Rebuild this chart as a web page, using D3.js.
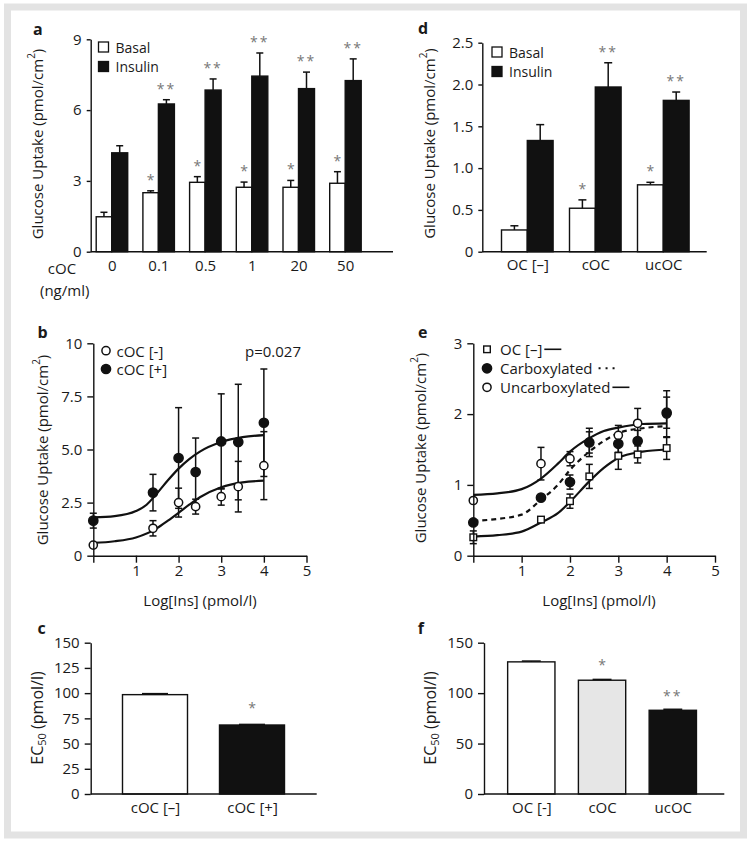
<!DOCTYPE html>
<html><head><meta charset="utf-8">
<script src="https://cdn.jsdelivr.net/npm/d3@7"></script>
<style>
body{margin:0;background:#fff}
svg{display:block}
text{font-family:"Open Sans",sans-serif;fill:#1a1a1a}
</style>
</head><body>
<svg id="c" width="751" height="844"></svg>
<script>
// ---------- DATA ----------
// Panel a
const aCats = ["0","0.1","0.5","1","20","50"];
const aBasal = [1.48,2.50,2.94,2.73,2.73,2.90];
const aBasalErr = [0.19,0.08,0.24,0.22,0.29,0.49];
const aInsulin = [4.19,6.26,6.85,7.44,6.91,7.25];
const aInsulinErr = [0.30,0.18,0.47,0.98,0.70,0.92];
const aBasalStars = ["","*","*","*","*","*"];
const aInsulinStars = ["","**","**","**","**","**"];
const aTicks = [0,3,6,9];
// Panel d
const dCats = ["OC [–]","cOC","ucOC"];
const dBasal = [0.26,0.52,0.80];
const dBasalErr = [0.05,0.10,0.03];
const dInsulin = [1.33,1.97,1.81];
const dInsulinErr = [0.19,0.29,0.10];
const dBasalStars = ["","*","*"];
const dInsulinStars = ["","**","**"];
const dTicks = [0,0.5,1.0,1.5,2.0,2.5];
// Panel b
const bX = [0,1.4,2,2.4,3,3.4,4];
const bMinus = [0.50,1.29,2.50,2.31,2.78,3.25,4.24];
const bMinusErr = [0.08,0.36,0.68,0.35,0.40,1.19,1.60];
const bPlus = [1.65,2.97,4.60,3.94,5.38,5.35,6.26];
const bPlusErr = [0.35,0.86,2.37,1.60,2.24,2.72,2.53];
const bFitPlus = [[0,1.8],[0.5,1.86],[1,2.1],[1.25,2.4],[1.5,2.95],[1.75,3.55],[2,4.1],[2.25,4.55],[2.5,4.9],[3,5.35],[3.5,5.58],[4,5.68]];
const bFitMinus = [[0,0.6],[0.5,0.68],[1,0.86],[1.5,1.3],[1.75,1.65],[2,2.02],[2.25,2.4],[2.5,2.75],[3,3.22],[3.5,3.45],[4,3.53]];
const bYTicks = [0,2.5,5,7.5,10];
const bXTicks = [0,1,2,3,4,5];
// Panel e
const eX = [0,1.4,2,2.4,3,3.4,4];
const eOC = [0.26,0.51,0.77,1.12,1.41,1.43,1.52];
const eOCErr = [0.09,0.04,0.10,0.17,0.19,0.12,0.16];
const eCarb = [0.47,0.82,1.04,1.60,1.58,1.62,2.02];
const eCarbErr = [0.03,0.02,0.10,0.20,0.12,0.15,0.22];
const eUncarb = [0.78,1.30,1.37,1.60,1.70,1.87,2.00];
const eUncarbErr = [0.02,0.23,0.10,0.15,0.14,0.21,0.33];
const eFitOC = [[0,0.27],[0.5,0.29],[1,0.34],[1.4,0.47],[1.75,0.6],[2,0.76],[2.4,1.05],[2.7,1.24],[3,1.38],[3.5,1.47],[4,1.5]];
const eFitCarb = [[0,0.49],[0.5,0.52],[1,0.58],[1.4,0.79],[1.75,1.0],[2,1.21],[2.4,1.47],[2.7,1.62],[3,1.73],[3.5,1.8],[4,1.83]];
const eFitUncarb = [[0,0.86],[0.5,0.88],[1,0.94],[1.4,1.09],[1.75,1.3],[2,1.47],[2.4,1.66],[2.7,1.76],[3,1.81],[3.5,1.86],[4,1.87]];
const eYTicks = [0,1,2,3];
const eXTicks = [0,1,2,3,4,5];
// Panel c
const cCats = ["cOC [–]","cOC [+]"];
const cVals = [98.5,68.4];
const cErr = [1.0,0.6];
const cStars = ["","*"];
const cFills = ["#ffffff","#111111"];
const cTicks = [0,25,50,75,100,125,150];
// Panel f
const fCats = ["OC [-]","cOC","ucOC"];
const fVals = [131,112.8,83];
const fErr = [0.8,0.8,1.0];
const fStars = ["","*","**"];
const fFills = ["#ffffff","#e6e6e6","#111111"];
const fTicks = [0,50,100,150];

// ---------- DRAW ----------
const svg = d3.select("#c");
svg.append("rect").attr("x",7.5).attr("y",7).attr("width",736).attr("height",828)
  .attr("fill","#fff").attr("stroke","#e3e3e3").attr("stroke-width",7);

const FS = 14.5;
const AX = 1.4;

function panelLabel(t,x,y){
  svg.append("text").attr("x",x).attr("y",y).attr("font-weight","bold").attr("font-size",16)
    .attr("dominant-baseline","central").text(t);
}
function yTitle(x,y,parts,fs){
  const t = svg.append("text").attr("transform",`translate(${x},${y}) rotate(-90)`)
    .attr("text-anchor","middle").attr("dominant-baseline","central").attr("font-size",fs||FS+0.5);
  parts.forEach(p=>{
    const s=t.append("tspan").text(p.t);
    if(p.fs) s.attr("font-size",p.fs);
    if(p.dy) s.attr("dy",p.dy);
  });
}
function yAxis(y,x0,ticks,fmt,tl,pad){
  const g = svg.append("g").attr("transform",`translate(${x0},0)`)
    .call(d3.axisLeft(y).tickValues(ticks).tickFormat(fmt).tickSize(tl).tickSizeOuter(0).tickPadding(pad));
  g.attr("font-family",null).attr("font-size",null);
  g.selectAll("text").attr("font-size",FS+0.5).attr("fill","#1a1a1a");
  g.selectAll("line,path").attr("stroke","#111").attr("stroke-width",AX);
  return g;
}
function star(x,y,s){
  svg.append("text").attr("x",x).attr("y",y).attr("text-anchor","middle")
    .attr("font-size",14).attr("letter-spacing",s.length>1?2:0).style("fill","#777").text(s);
}
function errUp(x,y0,y1,cw){
  svg.append("line").attr("x1",x).attr("x2",x).attr("y1",y0).attr("y2",y1).attr("stroke","#111").attr("stroke-width",1.5);
  svg.append("line").attr("x1",x-cw/2).attr("x2",x+cw/2).attr("y1",y1).attr("y2",y1).attr("stroke","#111").attr("stroke-width",1.5);
}

// ---- grouped bars (a, d) ----
function groupedPanel(o){
  const y = d3.scaleLinear().domain(o.yDom).range(o.yRange);
  const x = d3.scalePoint().domain(o.cats).range(o.cRange);
  o.series.forEach(s=>{
    o.cats.forEach((c,i)=>{
      const cx = x(c) + s.off;
      svg.append("rect").attr("x",cx).attr("y",y(s.v[i])).attr("width",s.w).attr("height",y(0)-y(s.v[i]))
        .attr("fill",s.fill).attr("stroke","#111").attr("stroke-width",1.4);
      const top = y(s.v[i]+s.e[i]);
      errUp(cx+s.w/2,y(s.v[i]),top,o.cap);
      if(s.stars[i]) star(cx+s.w/2, top-6, s.stars[i]);
    });
  });
  yAxis(y,o.ax,o.ticks,o.fmt,o.tl,o.pad);
  svg.append("line").attr("x1",o.ax).attr("x2",o.axEnd).attr("y1",y(0)).attr("y2",y(0)).attr("stroke","#111").attr("stroke-width",AX);
  const gx = svg.append("g").attr("transform",`translate(0,${y(0)})`).call(d3.axisBottom(x).tickSize(0).tickPadding(o.lpad));
  gx.attr("font-family",null).attr("font-size",null);
  gx.select(".domain").remove();
  gx.selectAll("text").attr("font-size",FS+0.5).attr("fill","#1a1a1a");
  // legend
  o.legend.forEach((l,i)=>{
    svg.append("rect").attr("x",o.lx).attr("y",o.ly+i*o.lstep-5).attr("width",10).attr("height",10)
      .attr("fill",l.fill).attr("stroke","#111").attr("stroke-width",1.3);
    svg.append("text").attr("x",o.lx+17).attr("y",o.ly+i*o.lstep).attr("dominant-baseline","central")
      .attr("font-size",14).text(l.t);
  });
  return {x,y};
}

groupedPanel({yDom:[0,9],yRange:[251.7,39.3],cats:aCats,cRange:[111.7,345.2],ax:90.7,axEnd:393,
  ticks:aTicks,fmt:d3.format("d"),tl:4,pad:5,cap:7,lpad:9,
  series:[{v:aBasal,e:aBasalErr,off:-15.5,w:15.5,fill:"#fff",stars:aBasalStars},
          {v:aInsulin,e:aInsulinErr,off:0,w:16,fill:"#111",stars:aInsulinStars}],
  legend:[{t:"Basal",fill:"#fff"},{t:"Insulin",fill:"#111"}],lx:98.5,ly:47,lstep:19.5});
svg.append("text").attr("x",62).attr("y",268).attr("text-anchor","middle").attr("dominant-baseline","central").attr("font-size",FS+0.5).text("cOC");
svg.append("text").attr("x",64.7).attr("y",290).attr("text-anchor","middle").attr("dominant-baseline","central").attr("font-size",FS+0.5).text("(ng/ml)");
panelLabel("a",33,29);
yTitle(37,144,[{t:"Glucose Uptake (pmol/cm"},{t:"2",fs:10,dy:-6},{t:")",dy:6}]);

groupedPanel({yDom:[0,2.5],yRange:[251.7,42.7],cats:dCats,cRange:[527.3,663.3],ax:482.3,axEnd:706.7,
  ticks:dTicks,fmt:d=>d===0?"0":d3.format(".1f")(d),tl:4,pad:5,cap:8,lpad:8,
  series:[{v:dBasal,e:dBasalErr,off:-25.8,w:25.8,fill:"#fff",stars:dBasalStars},
          {v:dInsulin,e:dInsulinErr,off:0,w:25.8,fill:"#111",stars:dInsulinStars}],
  legend:[{t:"Basal",fill:"#fff"},{t:"Insulin",fill:"#111"}],lx:492,ly:52,lstep:19.5});
panelLabel("d",418,28);
yTitle(429,143.5,[{t:"Glucose Uptake (pmol/cm"},{t:"2",fs:10,dy:-6},{t:")",dy:6}]);

// ---- scatter panels (b, e) ----
function scatterAxes(x,y,o){
  yAxis(y,x(0),o.yTicks,o.yFmt,6,5);
  const gx = svg.append("g").attr("transform",`translate(0,${y(0)})`)
    .call(d3.axisBottom(x).tickValues(o.xTicks).tickFormat(d=>d===0?"":d).tickSize(7).tickSizeOuter(0).tickPadding(3));
  gx.attr("font-family",null).attr("font-size",null);
  gx.selectAll("text").attr("font-size",FS+0.5).attr("fill","#1a1a1a");
  gx.selectAll("line,path").attr("stroke","#111").attr("stroke-width",AX);
}
function errBars(x,y,xs,v,e){
  xs.forEach((xx,i)=>{
    const px=x(xx), y0=y(v[i]-e[i]), y1=y(v[i]+e[i]);
    svg.append("line").attr("x1",px).attr("x2",px).attr("y1",y0).attr("y2",y1).attr("stroke","#111").attr("stroke-width",1.5);
    [y0,y1].forEach(yy=>svg.append("line").attr("x1",px-3.5).attr("x2",px+3.5).attr("y1",yy).attr("y2",yy).attr("stroke","#111").attr("stroke-width",1.5));
  });
}
function marker(px,py,type){
  if(type==="sq") svg.append("rect").attr("x",px-3.3).attr("y",py-3.3).attr("width",6.6).attr("height",6.6)
      .attr("fill","#fff").attr("stroke","#111").attr("stroke-width",1.4);
  else svg.append("circle").attr("cx",px).attr("cy",py).attr("r",type==="fill"?4.6:4.1)
      .attr("fill",type==="fill"?"#111":"#fff").attr("stroke","#111").attr("stroke-width",1.5);
}
function fitLine(x,y,pts,dash){
  const l = d3.line().x(d=>x(d[0])).y(d=>y(d[1])).curve(d3.curveMonotoneX);
  const p = svg.append("path").attr("d",l(pts)).attr("fill","none").attr("stroke","#111").attr("stroke-width",2.2);
  if(dash) p.attr("stroke-dasharray",dash);
}

// b
{
  const x = d3.scaleLinear().domain([0,5]).range([93.3,306.5]);
  const y = d3.scaleLinear().domain([0,10]).range([555.7,343.3]);
  errBars(x,y,bX,bPlus,bPlusErr);
  errBars(x,y,bX,bMinus,bMinusErr);
  fitLine(x,y,bFitPlus);
  fitLine(x,y,bFitMinus);
  bX.forEach((d,i)=>marker(x(d),y(bPlus[i]),"fill"));
  bX.forEach((d,i)=>marker(x(d),y(bMinus[i]),"open"));
  scatterAxes(x,y,{yTicks:bYTicks,yFmt:d=>d===0?"0":(d===10?"10":d3.format(".1f")(d)),xTicks:bXTicks});
  marker(106,350.7,"open"); marker(106,369,"fill");
  svg.append("text").attr("x",116.5).attr("y",350.7).attr("dominant-baseline","central").attr("font-size",FS+0.5).text("cOC [-]");
  svg.append("text").attr("x",116.5).attr("y",369).attr("dominant-baseline","central").attr("font-size",FS+0.5).text("cOC [+]");
  svg.append("text").attr("x",245).attr("y",350.7).attr("dominant-baseline","central").attr("font-size",FS+0.5).text("p=0.027");
  svg.append("text").attr("x",200).attr("y",600).attr("text-anchor","middle").attr("dominant-baseline","central").attr("font-size",FS+0.5).text("Log[Ins] (pmol/l)");
  panelLabel("b",37.5,331.7);
  yTitle(41.7,450,[{t:"Glucose Uptake (pmol/cm"},{t:"2",fs:10,dy:-6},{t:")",dy:6}]);
}
// e
{
  const x = d3.scaleLinear().domain([0,5]).range([473.3,715]);
  const y = d3.scaleLinear().domain([0,3]).range([555.7,343.3]);
  errBars(x,y,eX,eUncarb,eUncarbErr);
  errBars(x,y,eX,eCarb,eCarbErr);
  errBars(x,y,eX,eOC,eOCErr);
  fitLine(x,y,eFitUncarb);
  fitLine(x,y,eFitCarb,"5,4");
  fitLine(x,y,eFitOC);
  eX.forEach((d,i)=>marker(x(d),y(eUncarb[i]),"open"));
  eX.forEach((d,i)=>marker(x(d),y(eCarb[i]),"fill"));
  eX.forEach((d,i)=>marker(x(d),y(eOC[i]),"sq"));
  scatterAxes(x,y,{yTicks:eYTicks,yFmt:d3.format("d"),xTicks:eXTicks});
  const lx=487, lt=500;
  marker(lx,349.3,"sq"); marker(lx,368.3,"fill"); marker(lx,387.3,"open");
  const leg = [["OC [–]",349.3,"solid"],["Carboxylated",368.3,"dot"],["Uncarboxylated",387.3,"solid"]];
  leg.forEach(l=>{
    const t = svg.append("text").attr("x",lt).attr("y",l[1]).attr("dominant-baseline","central").attr("font-size",FS+0.5).text(l[0]);
    const w = t.node().getComputedTextLength();
    const x0 = lt+w+(l[2]==="dot"?6:2);
    svg.append("line").attr("x1",x0).attr("x2",x0+17).attr("y1",l[1]).attr("y2",l[1])
      .attr("stroke","#111").attr("stroke-width",l[2]==="dot"?2:1.6).attr("stroke-dasharray",l[2]==="dot"?"2,5":null);
  });
  svg.append("text").attr("x",599).attr("y",600).attr("text-anchor","middle").attr("dominant-baseline","central").attr("font-size",FS+0.5).text("Log[Ins] (pmol/l)");
  panelLabel("e",418,331.7);
  yTitle(420,448,[{t:"Glucose Uptake (pmol/cm"},{t:"2",fs:10,dy:-6},{t:")",dy:6}]);
}

// ---- single bars (c, f) ----
function simplePanel(o){
  const y = d3.scaleLinear().domain([0,150]).range([794,642.7]);
  const x = d3.scalePoint().domain(o.cats).range(o.cRange);
  o.cats.forEach((c,i)=>{
    const cx = x(c);
    svg.append("rect").attr("x",cx-o.w/2).attr("y",y(o.v[i])).attr("width",o.w).attr("height",y(0)-y(o.v[i]))
      .attr("fill",o.fills[i]).attr("stroke","#111").attr("stroke-width",1.4);
    const top=y(o.v[i]+o.e[i]);
    errUp(cx,y(o.v[i]),top,o.w*0.4);
  });
  o.cats.forEach((c,i)=>{ if(o.stars[i]) star(x(c), o.starY[i], o.stars[i]); });
  yAxis(y,o.ax,o.ticks,d3.format("d"),6,5);
  svg.append("line").attr("x1",o.ax).attr("x2",o.axEnd).attr("y1",y(0)).attr("y2",y(0)).attr("stroke","#111").attr("stroke-width",AX);
  const gx = svg.append("g").attr("transform",`translate(0,${y(0)})`).call(d3.axisBottom(x).tickSize(0).tickPadding(8));
  gx.attr("font-family",null).attr("font-size",null);
  gx.select(".domain").remove();
  gx.selectAll("text").attr("font-size",FS+0.5).attr("fill","#1a1a1a");
}
simplePanel({cats:cCats,v:cVals,e:cErr,fills:cFills,stars:cStars,starY:[0,713],cRange:[155,252],w:65,ax:90.7,axEnd:316.7,ticks:cTicks});
panelLabel("c",37.5,628.3);
yTitle(36.7,718,[{t:"EC"},{t:"50",fs:11,dy:4},{t:" (pmol/l)",dy:-4}],16);
simplePanel({cats:fCats,v:fVals,e:fErr,fills:fFills,stars:fStars,starY:[0,670,701],cRange:[531.3,672.8],w:47.3,ax:484,axEnd:724.3,ticks:fTicks});
panelLabel("f",417.7,628.3);
yTitle(430,718,[{t:"EC"},{t:"50",fs:11,dy:4},{t:" (pmol/l)",dy:-4}],16);
</script>
</body></html>
